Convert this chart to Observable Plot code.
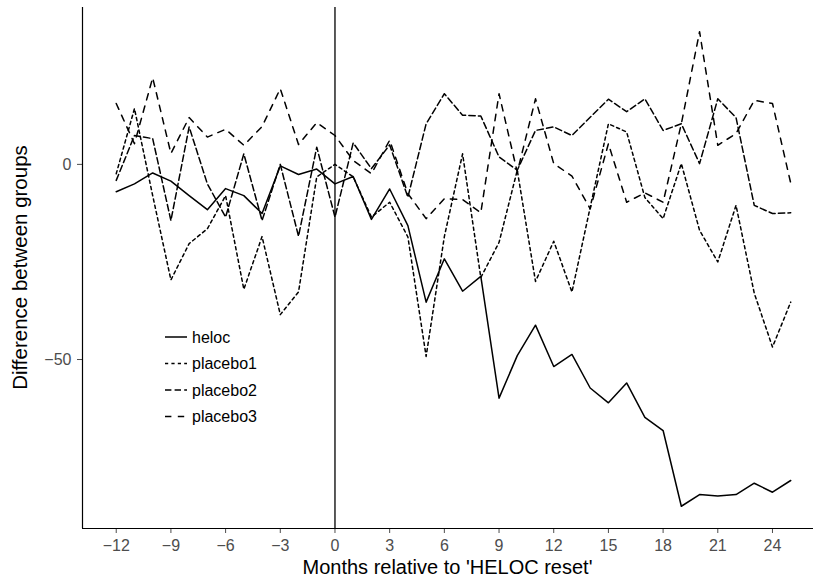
<!DOCTYPE html>
<html><head><meta charset="utf-8">
<script src="https://cdn.jsdelivr.net/npm/d3@7"></script>
<script src="https://cdn.jsdelivr.net/npm/@observablehq/plot@0.6"></script>
<style>
body{margin:0;background:#fff;}
#chart{position:relative;width:813px;height:580px;}
</style>
</head><body><div id="chart"></div>
<script>
const months = [-12,-11,-10,-9,-8,-7,-6,-5,-4,-3,-2,-1,0,1,2,3,4,5,6,7,8,9,10,11,12,13,14,15,16,17,18,19,20,21,22,23,24,25];
const heloc = [-7,-5,-2.2,-4.3,-8,-11.6,-6.2,-8,-12.6,-0.4,-2.6,-1.2,-5,
  -3.1,-14.1,-6.3,-15.7,-35.3,-24.2,-32.5,-28.7,-59.9,-49,-41.2,-51.8,-48.7,-57.3,-61.1,-56,-64.8,-68.2,-87.6,-84.6,-85,-84.6,-81.7,-84,-81];
const placebo1 = [-2.4,14.3,-8,-29.6,-20.3,-16.5,-8,-32,-18.5,-38.5,-32.7,-3.2,0,
  -3.2,-13.5,-9.7,-18.6,-49.2,-18.5,2.7,-29,-20,-1.5,-30,-19.7,-32.7,-11,10.4,8.3,-8.5,-13.9,0.2,-16.9,-25,-10.5,-33,-46.8,-35.3];
const placebo2 = [-4.1,7.4,6.6,-14.4,9.6,-5,-13.5,2.7,-14.4,0,-18.4,4.4,-13.5,
  5.5,-1.1,5,-8.4,10.4,18.1,12.6,12.4,1.9,-1.5,8.7,9.6,7.4,12.1,16.7,13.5,16.8,8.7,10.4,0.2,16.8,12,-10.5,-12.6,-12.4];
const placebo3 = [15.6,5.3,22.2,2.8,12,7,9,4.9,9.7,19.4,5.1,10.7,7.4,
  1,-2.4,6.2,-7.5,-13.9,-8.8,-9,-12.4,18.1,-2,16.8,0.2,-3,-11.4,5.3,-9.7,-7.3,-9.7,10.4,34,4.9,7.9,16.4,15.6,-4.8];
const seriesNames = ["heloc","placebo1","placebo2","placebo3"];
const seriesValues = [heloc, placebo1, placebo2, placebo3];
const dashes = ["none","3.2,3.2","6.4,3.2","6.4,6.4"];
const xTicks = [-12,-9,-6,-3,0,3,6,9,12,15,18,21,24];
const yTicks = [-50,0];
const xDomain = [-13.85, 26.25];
const yDomain = [-93.3, 40.2];
const xTitle = "Months relative to 'HELOC reset'";
const yTitle = "Difference between groups";

const rows = [];
seriesNames.forEach((s, i) => months.forEach((m, j) => rows.push({series: s, month: m, value: seriesValues[i][j]})));

const font = '"Liberation Sans", Arial, Helvetica, sans-serif';
const fmt = d => d3.format("d")(d).replace("-", "\u2212");

const plot = Plot.plot({
  width: 813, height: 580,
  marginLeft: 82, marginRight: 0, marginTop: 7, marginBottom: 52,
  style: {fontFamily: font, fontSize: "16px", color: "#4d4d4d", background: "white", overflow: "visible"},
  x: {domain: xDomain, ticks: xTicks, label: null},
  y: {domain: yDomain, ticks: yTicks, label: null},
  marks: [
    Plot.axisX({ticks: xTicks, tickSize: 5, tickPadding: 6, label: null, tickFormat: fmt}),
    Plot.axisY({ticks: yTicks, tickSize: 5, tickPadding: 6, label: null, tickFormat: fmt}),
    Plot.ruleX([xDomain[0]], {stroke: "black", strokeWidth: 1.2}),
    Plot.ruleY([yDomain[0]], {stroke: "black", strokeWidth: 1.2}),
    Plot.ruleX([0], {stroke: "black", strokeWidth: 1.3}),
    ...seriesNames.map((s, i) => Plot.line(rows.filter(d => d.series === s), {
      x: "month", y: "value", stroke: "black", strokeWidth: 1.5,
      strokeDasharray: dashes[i], strokeLinejoin: "round"
    }))
  ]
});
document.getElementById("chart").appendChild(plot);

const svg = d3.select(plot);
svg.append("text").text(xTitle)
  .attr("x", (82 + 813) / 2).attr("y", 574)
  .attr("text-anchor", "middle").attr("fill", "black")
  .style("font-family", font).style("font-size", "20px");
svg.append("text").text(yTitle)
  .attr("transform", "translate(27," + ((7 + 528) / 2) + ") rotate(-90)")
  .attr("text-anchor", "middle").attr("fill", "black")
  .style("font-family", font).style("font-size", "20.5px");

// legend
const lg = svg.append("g").attr("text-anchor", "start");
seriesNames.forEach((s, i) => {
  const cy = 337 + i * 26.5;
  lg.append("line").attr("x1", 165).attr("x2", 187).attr("y1", cy).attr("y2", cy)
    .attr("stroke", "black").attr("stroke-width", 1.5)
    .attr("stroke-dasharray", dashes[i]);
  lg.append("text").text(s).attr("x", 192).attr("y", cy).attr("dy", "0.35em")
    .attr("text-anchor", "start")
    .attr("fill", "black").style("font-family", font).style("font-size", "16px");
});
</script>
</body></html>
